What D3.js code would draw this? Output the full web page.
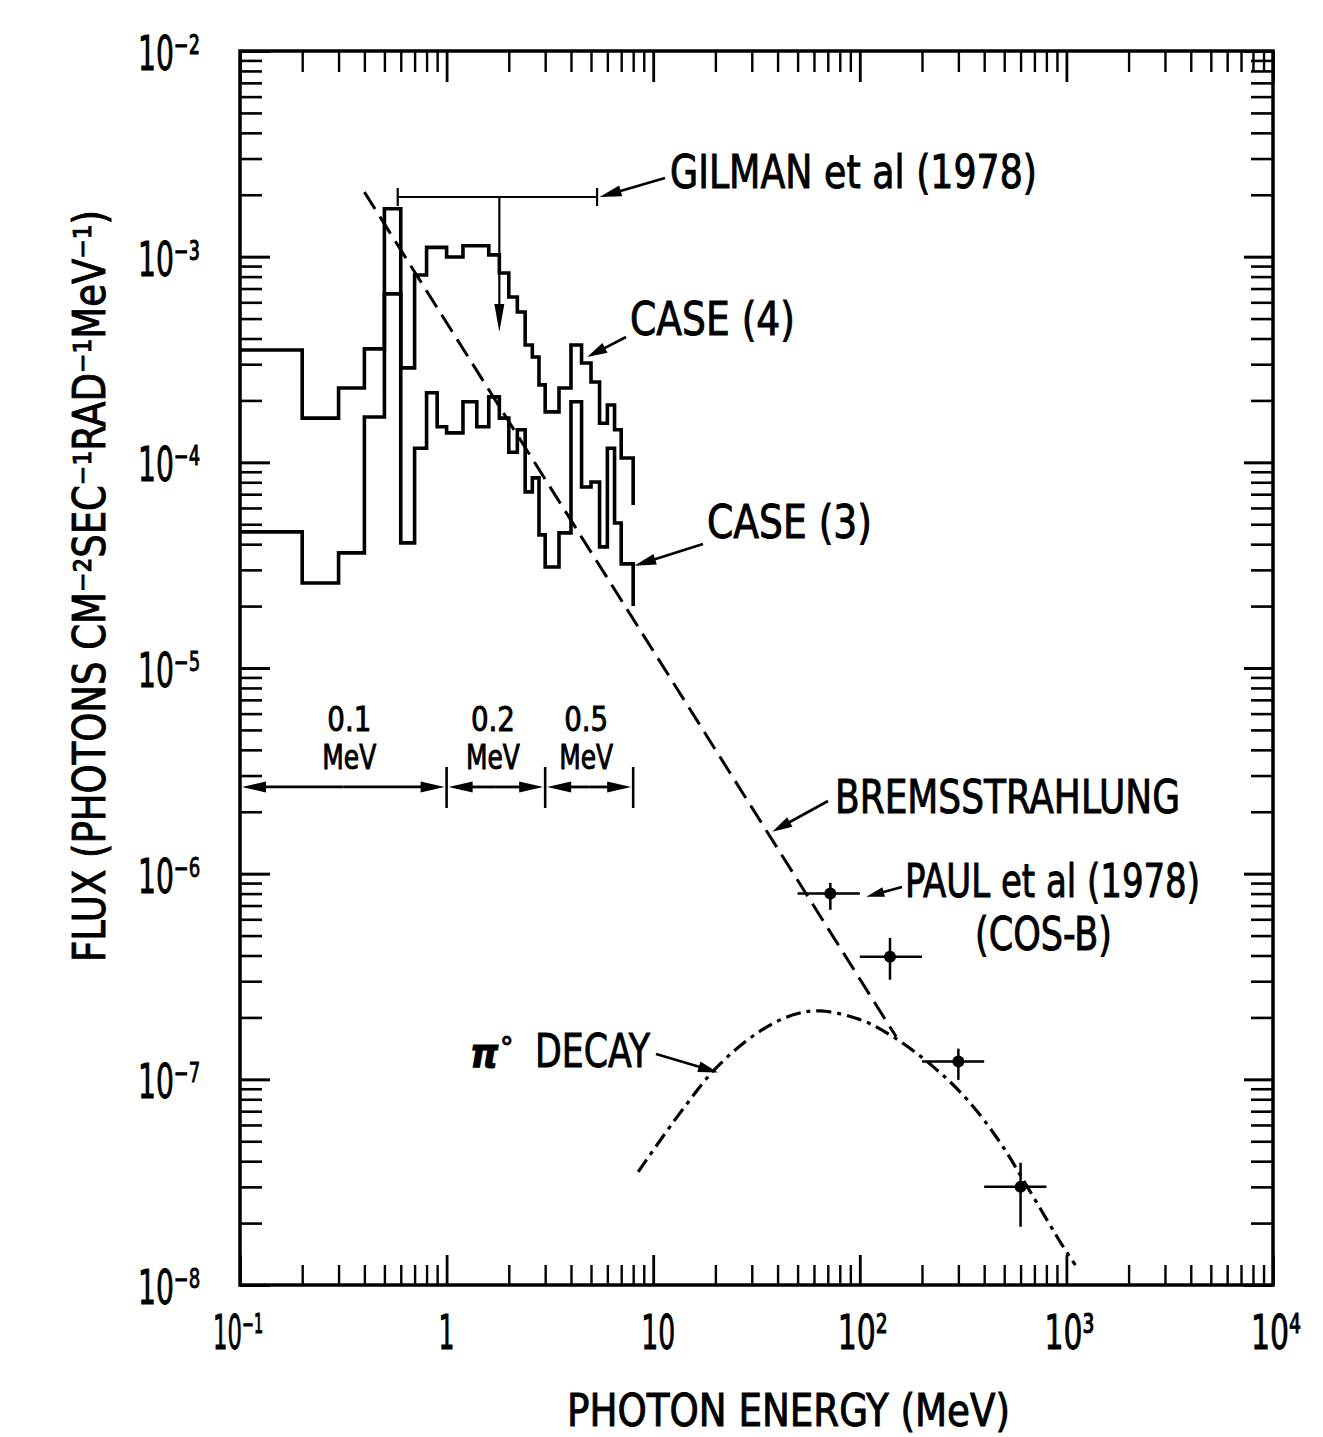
<!DOCTYPE html>
<html><head><meta charset="utf-8">
<script src="https://cdn.jsdelivr.net/npm/d3@7"></script>
<style>
body{margin:0;background:#fff;}
svg{display:block;background:#fff;}
text{font-family:'DejaVu Sans Condensed','Liberation Sans Narrow','DejaVu Sans',sans-serif;fill:#000;stroke:#000;stroke-width:0.9px;}
</style>
</head><body>
<svg id="chart" width="1323" height="1437"></svg>
<script>
// ---------------- DATA ----------------
// histogram energy bin edges (MeV): 0.1 MeV bins to 1 MeV, 0.2 MeV bins to 3 MeV, 0.5 MeV bins to 8 MeV
const binEdgesMeV = [0.1,0.2,0.3,0.4,0.5,0.6,0.7,0.8,0.9,1.0,
                     1.2,1.4,1.6,1.8,2.0,2.2,2.4,2.6,2.8,3.0,
                     3.5,4.0,4.5,5.0,5.5,6.0,6.5,7.0,7.5,8.0];
const case4Flux = [3.52e-4,1.64e-4,2.30e-4,3.56e-4,1.71e-3,2.88e-4,8.15e-4,1.11e-3,1.11e-3,
                   9.97e-4,1.13e-3,1.13e-3,1.02e-3,8.33e-4,6.37e-4,5.38e-4,3.72e-4,3.25e-4,2.38e-4,
                   1.76e-4,2.30e-4,3.72e-4,3.04e-4,2.46e-4,1.55e-4,1.90e-4,1.44e-4,1.05e-4,1.05e-4];
const case4Tail = 6.2e-5;
const case3Flux = [4.59e-5,2.59e-5,3.63e-5,1.66e-4,6.59e-4,4.06e-5,1.17e-4,2.18e-4,1.49e-4,
                   1.39e-4,1.97e-4,1.49e-4,2.08e-4,1.64e-4,1.12e-4,1.44e-4,7.18e-5,8.40e-5,4.44e-5,
                   3.10e-5,4.54e-5,1.97e-4,7.59e-5,8.03e-5,3.88e-5,1.17e-4,5.07e-5,3.21e-5,3.21e-5];
const case3Tail = 2.0e-5;

const bremsEnergy = [0.4, 150];
const bremsFlux   = [2.06e-3, 1.61e-7];

const pi0Energy = [8.46,13.5,20.4,31.9,47.6,64.4,100.6,145,227,332,479,647,967,1106];
const pi0Flux   = [3.55e-8,6.87e-8,1.15e-7,1.68e-7,2.06e-7,2.15e-7,1.95e-7,1.61e-7,1.15e-7,7.95e-8,4.91e-8,3.00e-8,1.53e-8,1.25e-8];

const paulEnergy     = [72, 140, 300, 600];
const paulEnergyLow  = [50, 100, 200, 400];
const paulEnergyHigh = [100, 200, 400, 800];
const paulFlux       = [8.0e-7, 3.94e-7, 1.22e-7, 3.0e-8];
const paulFluxLow    = [6.67e-7, 3.05e-7, 9.94e-8, 1.92e-8];
const paulFluxHigh   = [9.02e-7, 4.87e-7, 1.41e-7, 3.93e-8];

const gilmanRange = [0.58, 5.35];
const gilmanFlux = 1.95e-3;
const gilmanPeakEnergy = 1.8;
const gilmanArrowFlux = 4.3e-4;

const resolutionEdges = [0.1, 1, 3, 8];
const resolutionLabels = ["0.1", "0.2", "0.5"];
const resolutionFlux = 2.64e-6;

const xMajorTicks = [0.1, 1, 10, 100, 1000, 10000];
const xTickLabels = ["10⁻¹", "1", "10", "10²", "10³", "10⁴"];
const yMajorTicks = [1e-2, 1e-3, 1e-4, 1e-5, 1e-6, 1e-7, 1e-8];
const yTickLabels = ["10⁻²", "10⁻³", "10⁻⁴", "10⁻⁵", "10⁻⁶", "10⁻⁷", "10⁻⁸"];

// ---------------- LAYOUT ----------------
const svg = d3.select("#chart");
const L = 240, R = 1273, T = 51, B = 1285;
const x = d3.scaleLog().domain([0.1, 1e4]).range([L, R]);
const y = d3.scaleLog().domain([1e-8, 1e-2]).range([B, T]);

function minorTicks(lo, hi) {
  const out = [];
  for (let e = lo; e < hi; e++) for (let m = 2; m <= 9; m++) out.push(m * Math.pow(10, e));
  return out;
}
const xMinor = minorTicks(-1, 4);
const yMinor = minorTicks(-8, -2);

function styleAxis(g, w) {
  g.select(".domain").remove();
  g.selectAll(".tick line").attr("stroke", "#000").attr("stroke-width", w);
  g.selectAll(".tick text").remove();
}
// inward ticks on all four sides
svg.append("g").attr("transform", `translate(0,${B})`).call(d3.axisBottom(x).tickValues(xMinor).tickSizeInner(-20).tickSizeOuter(0)).call(styleAxis, 2.4);
svg.append("g").attr("transform", `translate(0,${B})`).call(d3.axisBottom(x).tickValues(xMajorTicks).tickSizeInner(-30).tickSizeOuter(0)).call(styleAxis, 2.8);
svg.append("g").attr("transform", `translate(0,${T})`).call(d3.axisTop(x).tickValues(xMinor).tickSizeInner(-21).tickSizeOuter(0)).call(styleAxis, 2.4);
svg.append("g").attr("transform", `translate(0,${T})`).call(d3.axisTop(x).tickValues(xMajorTicks).tickSizeInner(-31).tickSizeOuter(0)).call(styleAxis, 2.8);
svg.append("g").attr("transform", `translate(${L},0)`).call(d3.axisLeft(y).tickValues(yMinor).tickSizeInner(-22).tickSizeOuter(0)).call(styleAxis, 2.6);
svg.append("g").attr("transform", `translate(${L},0)`).call(d3.axisLeft(y).tickValues(yMajorTicks).tickSizeInner(-30).tickSizeOuter(0)).call(styleAxis, 3);
svg.append("g").attr("transform", `translate(${R},0)`).call(d3.axisRight(y).tickValues(yMinor).tickSizeInner(-22).tickSizeOuter(0)).call(styleAxis, 2.6);
svg.append("g").attr("transform", `translate(${R},0)`).call(d3.axisRight(y).tickValues(yMajorTicks).tickSizeInner(-29).tickSizeOuter(0)).call(styleAxis, 3);

svg.append("rect").attr("x", L).attr("y", T).attr("width", R - L).attr("height", B - T)
  .attr("fill", "none").attr("stroke", "#000").attr("stroke-width", 3.5);

// tick labels (one text element each, exponent as superscript characters)
const yLab = svg.append("g");
yMajorTicks.forEach((v, i) => {
  yLab.append("text").attr("x", 138).attr("y", y(v) + 19)
    .attr("font-size", 48).attr("textLength", 62).attr("lengthAdjust", "spacingAndGlyphs").text(yTickLabels[i]);
});
const xLab = svg.append("g");
xMajorTicks.forEach((v, i) => {
  const tx = x(v), s = xTickLabels[i];
  let start, w;
  if (s === "1") { start = tx - 8; w = 16; }
  else if (s === "10") { start = tx - 12; w = 34; }
  else if (s.length === 4) { start = tx - 27; w = 50; }
  else { start = tx - 22; w = 50; }
  xLab.append("text").attr("x", start).attr("y", 1349)
    .attr("font-size", 48).attr("textLength", w).attr("lengthAdjust", "spacingAndGlyphs").text(s);
});

// axis titles
svg.append("text").attr("x", 567).attr("y", 1426).attr("font-size", 44)
  .attr("textLength", 443).attr("lengthAdjust", "spacingAndGlyphs").text("PHOTON ENERGY (MeV)");
svg.append("text").attr("transform", "translate(105,586) rotate(-90)")
  .attr("text-anchor", "middle").attr("font-size", 44)
  .attr("textLength", 752).attr("lengthAdjust", "spacingAndGlyphs")
  .text("FLUX (PHOTONS CM⁻²SEC⁻¹RAD⁻¹MeV⁻¹)");

// ---------------- MARKS ----------------
const stepLine = d3.line().x(d => x(d[0])).y(d => y(d[1]));
function histPoints(edges, vals, tail) {
  const pts = [];
  vals.forEach((v, i) => { pts.push([edges[i], v]); pts.push([edges[i + 1], v]); });
  pts.push([edges[edges.length - 1], tail]);
  return pts;
}
svg.append("path").attr("d", stepLine(histPoints(binEdgesMeV, case4Flux, case4Tail)))
  .attr("fill", "none").attr("stroke", "#000").attr("stroke-width", 3.6).attr("stroke-linejoin", "miter");
svg.append("path").attr("d", stepLine(histPoints(binEdgesMeV, case3Flux, case3Tail)))
  .attr("fill", "none").attr("stroke", "#000").attr("stroke-width", 3.6).attr("stroke-linejoin", "miter");

// bremsstrahlung power law (dashed)
svg.append("path").attr("d", stepLine(bremsEnergy.map((e, i) => [e, bremsFlux[i]])))
  .attr("fill", "none").attr("stroke", "#000").attr("stroke-width", 3).attr("stroke-dasharray", "20,9");

// pi0 decay (dash-dot)
const smooth = d3.line().x(d => x(d[0])).y(d => y(d[1])).curve(d3.curveCatmullRom.alpha(0.5));
svg.append("path").attr("d", smooth(pi0Energy.map((e, i) => [e, pi0Flux[i]])))
  .attr("fill", "none").attr("stroke", "#000").attr("stroke-width", 3.2).attr("stroke-dasharray", "15,6,4,6");

// Paul et al (COS-B) points
const pg = svg.append("g");
paulEnergy.forEach((e, i) => {
  pg.append("line").attr("x1", x(paulEnergyLow[i])).attr("x2", x(paulEnergyHigh[i]))
    .attr("y1", y(paulFlux[i])).attr("y2", y(paulFlux[i])).attr("stroke", "#000").attr("stroke-width", 2.5);
  pg.append("line").attr("x1", x(e)).attr("x2", x(e))
    .attr("y1", y(paulFluxLow[i])).attr("y2", y(paulFluxHigh[i])).attr("stroke", "#000").attr("stroke-width", 2.5);
  pg.append("circle").attr("cx", x(e)).attr("cy", y(paulFlux[i])).attr("r", 6).attr("fill", "#000");
});

// arrow helper
function arrow(g, x1, y1, x2, y2, len, hw, sw) {
  const dx = x2 - x1, dy = y2 - y1, d = Math.hypot(dx, dy), ux = dx / d, uy = dy / d;
  const bx = x2 - ux * len, by = y2 - uy * len;
  g.append("line").attr("x1", x1).attr("y1", y1).attr("x2", bx + ux * 2).attr("y2", by + uy * 2)
    .attr("stroke", "#000").attr("stroke-width", sw);
  g.append("polygon").attr("points", [[x2, y2], [bx - uy * hw, by + ux * hw], [bx + uy * hw, by - ux * hw]].map(p => p.join(",")).join(" "))
    .attr("fill", "#000");
}

// Gilman et al bracket
const gg = svg.append("g");
const gy = y(gilmanFlux);
gg.append("line").attr("x1", x(gilmanRange[0])).attr("x2", x(gilmanRange[1])).attr("y1", gy).attr("y2", gy)
  .attr("stroke", "#000").attr("stroke-width", 2.2);
gilmanRange.forEach(e => gg.append("line").attr("x1", x(e)).attr("x2", x(e)).attr("y1", gy - 9).attr("y2", gy + 9)
  .attr("stroke", "#000").attr("stroke-width", 2.2));
arrow(gg, x(gilmanPeakEnergy), gy, x(gilmanPeakEnergy), y(gilmanArrowFlux), 28, 5, 2.2);

// energy resolution indicator
const rg = svg.append("g");
const ry = y(resolutionFlux);
for (let i = 0; i < resolutionEdges.length - 1; i++) {
  const a = x(resolutionEdges[i]), b = x(resolutionEdges[i + 1]), m = (a + b) / 2;
  arrow(rg, m, ry, a + 2, ry, 24, 5.5, 2.8);
  arrow(rg, m, ry, b - 2, ry, 24, 5.5, 2.8);
  const c = x(Math.sqrt(resolutionEdges[i] * resolutionEdges[i + 1])) + (i === 0 ? 6 : -3);
  rg.append("text").attr("x", c).attr("y", 731).attr("text-anchor", "middle").attr("font-size", 34)
    .attr("textLength", 44).attr("lengthAdjust", "spacingAndGlyphs").text(resolutionLabels[i]);
  rg.append("text").attr("x", c).attr("y", 769).attr("text-anchor", "middle").attr("font-size", 33)
    .attr("textLength", 54).attr("lengthAdjust", "spacingAndGlyphs").text("MeV");
}
resolutionEdges.slice(1).forEach(e => rg.append("line").attr("x1", x(e)).attr("x2", x(e))
  .attr("y1", ry - 20).attr("y2", ry + 21).attr("stroke", "#000").attr("stroke-width", 2.6));

// annotations
const ag = svg.append("g");
function label(txt, px, py, w, fs) {
  ag.append("text").attr("x", px).attr("y", py).attr("font-size", fs || 46)
    .attr("textLength", w).attr("lengthAdjust", "spacingAndGlyphs").text(txt);
}
label("GILMAN et al (1978)", 670, 188, 367);
arrow(ag, 665, 178, x(5.5), y(1.95e-3), 22, 5.5, 2.6);
label("CASE (4)", 630, 335, 165);
arrow(ag, 626, 337, x(4.79), y(3.25e-4), 20, 5.5, 2.6);
label("CASE (3)", 707, 538, 165);
arrow(ag, 703, 544, x(8.09), y(3.14e-5), 22, 5.5, 2.6);
label("BREMSSTRAHLUNG", 835, 813, 345);
arrow(ag, 828, 801, x(37.7), y(1.6e-6), 20, 5.5, 2.6);
label("PAUL et al (1978)", 905, 897, 295);
label("(COS-B)", 975, 950, 137);
arrow(ag, 902, 887, x(107.5), y(7.72e-7), 18, 5, 2.6);
ag.append("text").attr("x", 470).attr("y", 1067).attr("font-size", 40)
  .attr("font-style", "italic").attr("font-weight", "bold").text("π");
ag.append("text").attr("x", 500).attr("y", 1058).attr("font-size", 30).text("°");
label("DECAY", 535, 1067, 115);
arrow(ag, 656, 1054, x(20.6), y(1.08e-7), 20, 5.5, 2.6);
</script>
</body></html>
